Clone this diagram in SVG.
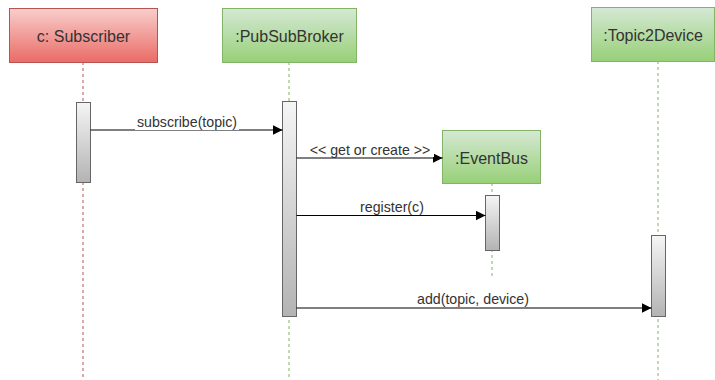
<svg xmlns="http://www.w3.org/2000/svg" width="715" height="380" viewBox="0 0 715 380">
<defs>
<linearGradient id="gRed" x1="0" y1="0" x2="0" y2="1"><stop offset="0" stop-color="#f8cecc"/><stop offset="1" stop-color="#ea6b66"/></linearGradient>
<linearGradient id="gGreen" x1="0" y1="0" x2="0" y2="1"><stop offset="0" stop-color="#d5e8d4"/><stop offset="1" stop-color="#97d077"/></linearGradient>
<linearGradient id="gAct" x1="0" y1="0" x2="0" y2="1"><stop offset="0" stop-color="#f5f5f5"/><stop offset="1" stop-color="#b3b3b3"/></linearGradient>
<marker id="arr" viewBox="0 0 10 10" refX="10" refY="5" markerWidth="10" markerHeight="10" markerUnits="userSpaceOnUse" orient="auto"><path d="M0,0 L10,5 L0,10 Z" fill="#000"/></marker>
</defs>
<style>
.title{font-family:"Liberation Sans",Arial,sans-serif;font-size:16px;fill:#333;text-anchor:middle;dominant-baseline:central}
.lbl{font-family:"Liberation Sans",Arial,sans-serif;font-size:14.2px;fill:#333;text-anchor:middle}
.red{fill:url(#gRed);stroke:#b85450;stroke-width:1}
.green{fill:url(#gGreen);stroke:#82b366;stroke-width:1}
.act{fill:url(#gAct);stroke:#666;stroke-width:1}
.llr{stroke:#b85450;stroke-width:1;stroke-dasharray:3,3;fill:none}
.llg{stroke:#82b366;stroke-width:1;stroke-dasharray:3,3;fill:none}
.msg{stroke:#000;stroke-width:1;fill:none;marker-end:url(#arr)}
.bg{fill:#fff}
</style>
<rect width="715" height="380" fill="#fff"/>
<g id="subscriber">
<line class="llr" x1="83" y1="62" x2="83" y2="380"/>
<rect class="red" x="9.5" y="8.5" width="148" height="54"/>
<text class="title" x="83.5" y="36">c: Subscriber</text>
<rect class="act" x="76.5" y="102.5" width="14" height="80"/>
</g>
<g id="pubsubbroker">
<line class="llg" x1="289" y1="62" x2="289" y2="380"/>
<rect class="green" x="222.5" y="8.5" width="134" height="54"/>
<text class="title" x="289.5" y="36">:PubSubBroker</text>
<rect class="act" x="282.5" y="101.5" width="14" height="215"/>
</g>
<g id="topic2device">
<line class="llg" x1="658" y1="61" x2="658" y2="380"/>
<rect class="green" x="591.5" y="7.5" width="123" height="54"/>
<text class="title" x="653" y="35">:Topic2Device</text>
<rect class="act" x="651.5" y="235.5" width="14" height="81"/>
</g>
<g id="eventbus">
<line class="llg" x1="492" y1="183" x2="492" y2="276"/>
<rect class="green" x="442.5" y="130.5" width="98" height="53"/>
<text class="title" x="491.5" y="158">:EventBus</text>
<rect class="act" x="485.5" y="195.5" width="14" height="55"/>
</g>
<g id="connectors">
<line class="msg" x1="90.5" y1="130" x2="282.5" y2="130"/>
<rect class="bg" x="135" y="115" width="104" height="15"/>
<text class="lbl" x="187" y="127">subscribe(topic)</text>
<line class="msg" x1="296.5" y1="158" x2="442.5" y2="158"/>
<rect class="bg" x="306" y="141" width="128" height="16"/>
<text class="lbl" x="370" y="155">&lt;&lt; get or create &gt;&gt;</text>
<line class="msg" x1="296.5" y1="215.5" x2="485.5" y2="215.5"/>
<rect class="bg" x="357" y="200" width="70" height="15"/>
<text class="lbl" x="392" y="212">register(c)</text>
<line class="msg" x1="296.5" y1="308" x2="651.5" y2="308"/>
<rect class="bg" x="415" y="292" width="117" height="15"/>
<text class="lbl" x="473" y="304">add(topic, device)</text>
</g>
</svg>
